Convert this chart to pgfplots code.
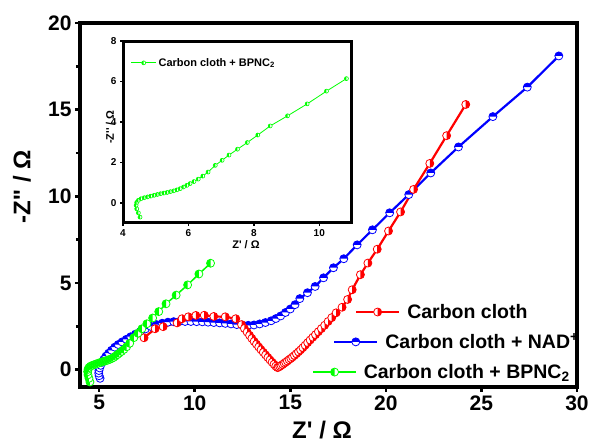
\documentclass[border=0pt]{standalone}
\usepackage{fontspec}
\setmainfont{Liberation Sans}[Ligatures=TeXOff]
\usepackage{pgfplots}
\pgfplotsset{compat=1.18}
\definecolor{myred}{RGB}{255,0,0}
\definecolor{myblue}{RGB}{0,0,255}
\definecolor{mygreen}{RGB}{0,255,0}

\pgfdeclareplotmark{hcred}{%
  \pgfpathcircle{\pgfpointorigin}{\pgfplotmarksize}%
  \pgfsetfillcolor{white}\pgfusepathqfill
  \pgfpathmoveto{\pgfqpoint{0pt}{-\pgfplotmarksize}}%
  \pgfpatharc{-90}{90}{\pgfplotmarksize}\pgfpathclose
  \pgfsetfillcolor{myred}\pgfusepathqfill
  \pgfpathcircle{\pgfpointorigin}{\pgfplotmarksize}%
  \pgfusepathqstroke}
\pgfdeclareplotmark{hcblue}{%
  \pgfpathcircle{\pgfpointorigin}{\pgfplotmarksize}%
  \pgfsetfillcolor{white}\pgfusepathqfill
  \pgfpathmoveto{\pgfqpoint{\pgfplotmarksize}{0pt}}%
  \pgfpatharc{0}{180}{\pgfplotmarksize}\pgfpathclose
  \pgfsetfillcolor{myblue}\pgfusepathqfill
  \pgfpathcircle{\pgfpointorigin}{\pgfplotmarksize}%
  \pgfusepathqstroke}
\pgfdeclareplotmark{hcgreen}{%
  \pgfpathcircle{\pgfpointorigin}{\pgfplotmarksize}%
  \pgfsetfillcolor{white}\pgfusepathqfill
  \pgfpathmoveto{\pgfqpoint{0pt}{\pgfplotmarksize}}%
  \pgfpatharc{90}{270}{\pgfplotmarksize}\pgfpathclose
  \pgfsetfillcolor{mygreen}\pgfusepathqfill
  \pgfpathcircle{\pgfpointorigin}{\pgfplotmarksize}%
  \pgfusepathqstroke}

\pgfplotsset{
  redstyle/.style={myred, line width=2.2pt, mark=hcred, mark size=4pt, mark options={line width=0.8pt}},
  bluestyle/.style={myblue, line width=2.2pt, mark=hcblue, mark size=4pt, mark options={line width=0.8pt}},
  greenstyle/.style={mygreen, line width=1.5pt, mark=hcgreen, mark size=4pt, mark options={line width=0.8pt}},
  mainleg/.style={
    legend style={draw=none, fill=none, font=\fontsize{19.5}{19.5}\selectfont\bfseries, anchor=west},
    legend image code/.code={\draw[mark repeat=2,mark phase=2,##1] plot coordinates {(0pt,0pt) (21.5pt,0pt) (43pt,0pt)};}
  },
  boxed/.style={at={(0pt,0pt)}, anchor=south west, width=497pt, height=364pt, scale only axis}
}

\begin{document}
\begin{tikzpicture}
\useasboundingbox (-80pt,-57pt) rectangle (512pt,387pt);
\begin{axis}[boxed,
  xmin=4, xmax=30, ymin=-1, ymax=20,
  xtick={5,10,...,30}, ytick={0,5,...,20},
  minor y tick num=1,
  tick align=outside, xtick pos=bottom, ytick pos=left,
  axis line style={line width=4pt},
  major tick length=5pt, minor tick length=4pt,
  every tick/.style={black, line width=2.5pt},
  tick label style={font=\fontsize{21}{21}\selectfont\bfseries},
  /pgf/number format/assume math mode=true,
  xlabel={Z' / Ω}, ylabel={-Z'' / Ω},
  label style={font=\fontsize{24}{24}\selectfont\bfseries},
  xlabel style={at={(axis description cs:0.487,-0.118)}, anchor=center},
  ylabel style={at={(axis description cs:-0.117,0.55)}, anchor=center},
  mainleg,
  legend style={at={(axis description cs:0.547,0.206)}},
]
\addplot[bluestyle, forget plot] coordinates {
(5.05,-0.5)(5.0,-0.35)(4.98,-0.2)(4.99,-0.05)(5.03,0.1)(5.08,0.25)(5.15,0.42)(5.25,0.6)(5.36,0.78)(5.5,0.95)(5.65,1.12)(5.82,1.3)(6.0,1.45)(6.2,1.6)(6.42,1.75)(6.65,1.9)(6.9,2.05)(7.15,2.2)(7.42,2.35)(7.7,2.5)(8.0,2.6)(8.3,2.68)(8.6,2.74)(8.9,2.77)(9.2,2.78)(9.5,2.78)(9.8,2.78)(10.1,2.77)(10.4,2.76)(10.7,2.74)(11.0,2.72)(11.3,2.7)(11.6,2.67)(11.9,2.64)(12.2,2.6)(12.5,2.57)(12.8,2.56)(13.1,2.58)(13.4,2.64)(13.7,2.72)(14.0,2.82)(14.25,2.95)(14.5,3.1)(14.75,3.3)(15.0,3.5)(15.25,3.75)(15.5,4.1)(15.9,4.44)(16.3,4.8)(16.74,5.3)(17.26,5.88)(17.8,6.4)(18.5,7.2)(19.3,8.07)(20.2,9.05)(21.2,10.1)(22.35,11.35)(23.8,12.85)(25.6,14.6)(27.4,16.3)(29.05,18.1)
};
\addplot[redstyle] coordinates {
(7.35,1.84)(7.93,2.36)(8.35,2.48)(9.08,2.7)(9.34,2.94)(9.67,3.05)(10.06,3.13)(10.5,3.14)(11.0,3.07)(11.6,3.05)(12.15,2.94)
(12.45,2.6)(12.6,2.38)(12.74,2.17)(12.87,1.98)(12.99,1.8)(13.11,1.63)(13.23,1.47)(13.35,1.31)(13.47,1.15)(13.59,1.0)(13.71,0.85)(13.83,0.7)(13.94,0.56)(14.05,0.43)(14.15,0.31)(14.24,0.2)(14.33,0.12)
(14.38,0.14)(14.45,0.19)(14.52,0.24)(14.6,0.3)(14.68,0.37)(14.76,0.43)(14.85,0.5)(14.94,0.58)(15.03,0.65)(15.12,0.73)(15.22,0.82)(15.32,0.92)(15.43,1.03)(15.54,1.14)(15.66,1.27)(15.78,1.41)(15.91,1.56)(16.04,1.71)(16.18,1.87)(16.32,2.02)(16.47,2.19)(16.63,2.37)(16.8,2.56)(16.98,2.78)(17.17,3.0)(17.4,3.28)(17.71,3.6)(18.0,4.05)(18.24,4.61)(18.67,5.48)(19.06,6.15)(19.55,6.95)(20.14,8.0)(20.77,9.1)(21.45,10.4)(22.3,11.9)(23.18,13.5)(24.18,15.3)
};
\addlegendentry{\hspace*{5pt}Carbon cloth}
\addplot[greenstyle, forget plot] coordinates {
(4.52,-0.71)(4.47,-0.5)(4.42,-0.3)(4.40,-0.12)(4.42,0.02)(4.47,0.12)(4.55,0.2)(4.65,0.25)(4.75,0.29)(4.85,0.33)(4.95,0.37)(5.05,0.41)(5.15,0.45)(5.25,0.48)(5.35,0.51)(5.45,0.55)(5.55,0.59)(5.65,0.64)(5.75,0.7)(5.85,0.78)(5.95,0.86)(6.05,0.95)(6.17,1.05)(6.3,1.17)(6.44,1.32)(6.6,1.52)(6.82,1.85)(7.03,2.1)(7.24,2.36)(7.5,2.65)(7.8,2.98)(8.12,3.35)(8.5,3.8)(9.03,4.3)(9.63,4.89)(10.22,5.52)(10.83,6.14)
};
\end{axis}
\begin{axis}[boxed, hide axis, xmin=0, xmax=1, ymin=0, ymax=1, mainleg,
  legend style={at={(axis description cs:0.503,0.124)}}]
\addlegendimage{bluestyle}
\addlegendentry{\hspace*{5pt}Carbon cloth + NAD\textsuperscript{+}}
\end{axis}
\begin{axis}[boxed, hide axis, xmin=0, xmax=1, ymin=0, ymax=1, mainleg,
  legend style={at={(axis description cs:0.461,0.041)}}]
\addlegendimage{greenstyle}
\addlegendentry{\hspace*{5pt}Carbon cloth + BPNC\textsubscript{2}}
\end{axis}
% inset
\begin{axis}[at={(43pt,164pt)}, anchor=south west, width=229pt, height=182pt, scale only axis,
  xmin=4, xmax=11, ymin=-1, ymax=8, xtick={4,6,8,10}, ytick={0,2,...,8},
  tick align=outside, xtick pos=bottom, ytick pos=left,
  axis line style={line width=3pt}, major tick length=3pt,
  every tick/.style={black, line width=1.5pt},
  tick label style={font=\fontsize{10}{10}\selectfont\bfseries},
  /pgf/number format/assume math mode=true,
  xlabel={Z' / Ω}, ylabel={-Z'' / Ω},
  label style={font=\fontsize{11}{11}\selectfont\bfseries},
  xlabel style={at={(axis description cs:0.537,-0.12)}, anchor=center},
  ylabel style={at={(axis description cs:-0.057,0.527)}, anchor=center},
  legend style={draw=none, fill=none, at={(axis description cs:0.02,0.88)}, anchor=west, font=\fontsize{11}{11}\selectfont\bfseries},
  legend image code/.code={\draw[mark repeat=2,mark phase=2,#1] plot coordinates {(0pt,0pt) (12.5pt,0pt) (25pt,0pt)};}
]
\addplot[mygreen, line width=0.8pt, mark=hcgreen, mark size=2pt, mark options={line width=0.6pt}] coordinates {
(4.52,-0.71)(4.47,-0.5)(4.42,-0.3)(4.40,-0.12)(4.42,0.02)(4.47,0.12)(4.55,0.2)(4.65,0.25)(4.75,0.29)(4.85,0.33)(4.95,0.37)(5.05,0.41)(5.15,0.45)(5.25,0.48)(5.35,0.51)(5.45,0.55)(5.55,0.59)(5.65,0.64)(5.75,0.7)(5.85,0.78)(5.95,0.86)(6.05,0.95)(6.17,1.05)(6.3,1.17)(6.44,1.32)(6.6,1.52)(6.82,1.85)(7.03,2.1)(7.24,2.36)(7.5,2.65)(7.8,2.98)(8.12,3.35)(8.5,3.8)(9.03,4.3)(9.63,4.89)(10.22,5.52)(10.83,6.14)
};
\addlegendentry{Carbon cloth + BPNC\textsubscript{2}}
\end{axis}
\end{tikzpicture}
\end{document}
